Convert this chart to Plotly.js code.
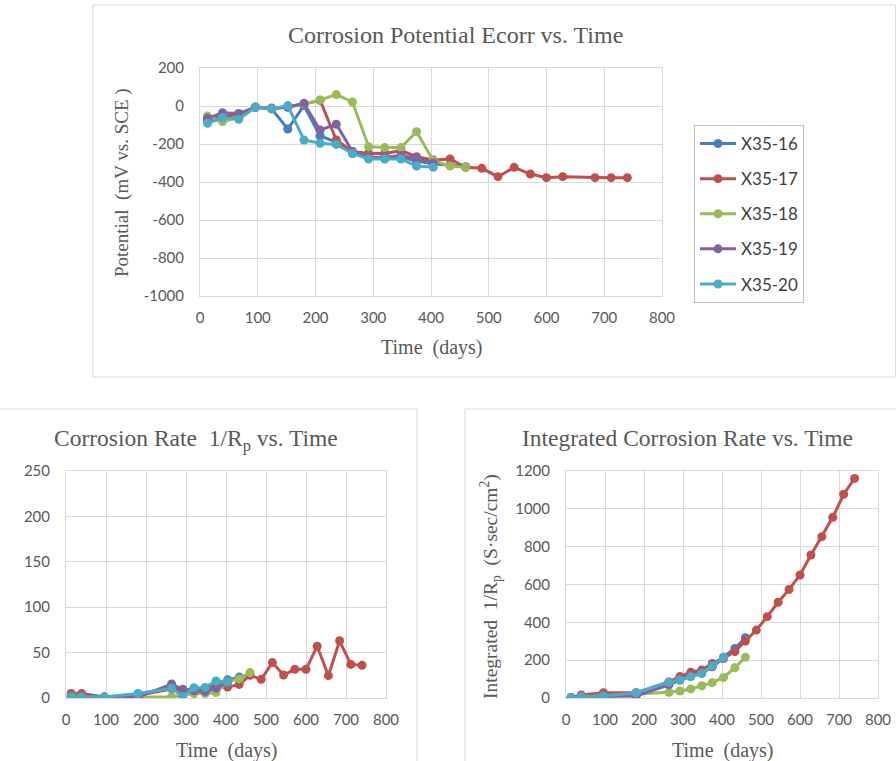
<!DOCTYPE html>
<html>
<head>
<meta charset="utf-8">
<script src="https://cdn.plot.ly/plotly-3.0.1.min.js"></script>
<style>
html,body{margin:0;padding:0;background:#fff;}
#chart{width:896px;height:761px;}
</style>
</head>
<body>
<div id="chart"></div>
<script>
// ---------- Data ----------
const seriesNames = ["X35-16", "X35-17", "X35-18", "X35-19", "X35-20"];
const seriesColors = ["#4A7EBB", "#C0504D", "#9BBB59", "#8064A2", "#4BACC6"];

// Corrosion potential (mV vs SCE)
const potDaysAll = [13, 39, 67, 96, 124, 152, 180, 208, 236, 264, 292, 320, 348, 375, 404, 433, 460, 488, 516, 544, 572, 600, 628, 684, 712, 740];
const pot16 = [-80, -70, -65, -7, -15, -121, 2, -158, -190, -250, -270, -275, -270, -290, -305, -310, -320];
const pot17 = [-60, -55, -45, -5, -10, -5, 10, 30, -179, -240, -250, -250, -235, -267, -284, -279, -323, -328, -372, -323, -358, -377, -372, -377, -377, -377];
const pot18 = [-53, -82, -60, -7, -15, -5, 10, 32, 60, 21, -214, -219, -219, -135, -288, -316, -323];
const pot19 = [-65, -35, -39, -7, -15, -5, 14, -126, -96, -240, -270, -270, -260, -275, -300];
const pot20 = [-91, -61, -70, -7, -15, 2, -179, -196, -202, -250, -279, -279, -279, -316, -323];

// Corrosion rate 1/Rp and integrated 1/Rp
const rateDaysAll = [13, 39, 96, 180, 264, 292, 320, 348, 375, 404, 433, 460, 488, 516, 544, 572, 600, 628, 656, 684, 712, 740];
const rate16 = [3, 3, 1, 4, 12, 8, 10, 10, 15, 20, 23, 26];
const rate17 = [5, 5, 1, 3, 10, 9, 8, 8, 12, 12, 15, 25, 20.6, 39, 25.3, 31.6, 31.6, 57, 24.6, 63, 37, 36];
const rate18 = [2, 2, 1, 1, 1.5, 3, 5, 5, 6, 18, 21, 28];
const rate19 = [2, 2, 1, 1, 15.4, 9.5, 8, 7, 10.7, 17];
const rate20 = [1.5, 1, 1, 5, 10.7, 1.5, 11.4, 11.7, 18.7, 17.6];

const int16 = [2, 7, 10, 25, 80, 100, 120, 135, 175, 215, 262, 319];
const int17 = [3, 16, 28, 28, 85, 113, 136, 148, 183, 210, 245, 301, 359, 430, 506, 574, 650, 756, 853, 955, 1077, 1161];
const int18 = [2, 5, 8, 18, 30, 37, 48, 65, 81, 109, 160, 215];
const int19 = [2, 5, 8, 11, 70, 95, 115, 130, 165, 210];
const int20 = [1.6, 7, 10.6, 28, 83, 95, 113, 130, 171, 215];

const xTicks = [0, 100, 200, 300, 400, 500, 600, 700, 800];
const potTicks = [200, 0, -200, -400, -600, -800, -1000];
const potTickText = ["200", "0", "-200", "-400", "-600", "-800", "-1000"];

// ---------- Build ----------
const potSeries = [pot16, pot17, pot18, pot19, pot20];
const rateSeries = [rate16, rate17, rate18, rate19, rate20];
const intSeries = [int16, int17, int18, int19, int20];

function mk(xs, ys, i, xa, ya, legend) {
  return {
    type: "scatter", mode: "lines+markers",
    x: xs.slice(0, ys.length), y: ys,
    name: seriesNames[i], legendgroup: "g" + i, showlegend: legend,
    xaxis: xa, yaxis: ya,
    line: {color: seriesColors[i], width: 3},
    marker: {color: seriesColors[i], size: 9}
  };
}

const data = [];
potSeries.forEach((s, i) => data.push(mk(potDaysAll, s, i, "x", "y", true)));
rateSeries.forEach((s, i) => data.push(mk(rateDaysAll, s, i, "x2", "y2", false)));
intSeries.forEach((s, i) => data.push(mk(rateDaysAll, s, i, "x3", "y3", false)));

const W = 896, H = 761;
const px = v => v / W;
const py = v => 1 - v / H;

const tickFont = {family: "Lato, 'Open Sans', sans-serif", size: 15, color: "#595959"};
const serif = "'Liberation Serif', 'Times New Roman', serif";
const gridC = "#d9d9d9";

function xa(dom) {
  return {domain: dom, range: [0, 800], tickvals: xTicks, showgrid: true, gridcolor: gridC,
    showline: true, linecolor: gridC, mirror: true, zeroline: false, ticks: "",
    tickfont: tickFont, ticklabelstandoff: 8, fixedrange: true};
}
function ya(dom, range, dtick, anchor) {
  return {domain: dom, range: range, dtick: dtick, showgrid: true, gridcolor: gridC,
    showline: true, linecolor: gridC, mirror: true, zeroline: false, ticks: "",
    tickfont: tickFont, ticklabelstandoff: 12, anchor: anchor, fixedrange: true};
}

const yTop = ya([py(296), py(68)], [-1000, 200], 200, "x");
yTop.tickmode = "array";
yTop.tickvals = potTicks;
yTop.ticktext = potTickText;

const layout = {
  width: W, height: H,
  margin: {l: 0, r: 0, t: 0, b: 0},
  paper_bgcolor: "#fff", plot_bgcolor: "#fff",
  showlegend: true,
  legend: {x: px(694), y: py(125), xanchor: "left", yanchor: "top",
    bordercolor: "#bfbfbf", borderwidth: 1, bgcolor: "#fff",
    font: {family: "Lato, 'Open Sans', sans-serif", size: 17, color: "#404040"},
    traceorder: "grouped", tracegroupgap: 10, itemwidth: 36},
  xaxis: Object.assign(xa([px(200), px(662)]), {anchor: "y"}),
  yaxis: yTop,
  xaxis2: Object.assign(xa([px(66), px(386)]), {anchor: "y2"}),
  yaxis2: ya([py(698), py(471)], [0, 250], 50, "x2"),
  xaxis3: Object.assign(xa([px(566), px(878)]), {anchor: "y3"}),
  yaxis3: ya([py(698), py(471)], [0, 1200], 200, "x3"),
  shapes: [
    {type: "rect", xref: "paper", yref: "paper", x0: px(93), x1: px(895.5), y0: py(377), y1: py(5), line: {color: gridC, width: 1}},
    {type: "rect", xref: "paper", yref: "paper", x0: -0.01, x1: px(417), y0: -0.01, y1: py(409), line: {color: gridC, width: 1}},
    {type: "rect", xref: "paper", yref: "paper", x0: px(465), x1: 1.01, y0: -0.01, y1: py(409), line: {color: gridC, width: 1}}
  ],
  annotations: [
    {text: "Corrosion Potential Ecorr vs. Time", xref: "paper", yref: "paper", x: px(455), y: py(35), showarrow: false, xanchor: "center", yanchor: "middle", font: {family: serif, size: 24, color: "#595959"}},
    {text: "Time  (days)", xref: "paper", yref: "paper", x: px(431), y: py(347), showarrow: false, xanchor: "center", yanchor: "middle", font: {family: serif, size: 20, color: "#595959"}},
    {text: "Potential  (mV vs. SCE )", xref: "paper", yref: "paper", x: px(122), y: py(182), showarrow: false, textangle: -90, xanchor: "center", yanchor: "middle", font: {family: serif, size: 19, color: "#595959"}},
    {text: "Corrosion Rate  1/R<sub>p</sub> vs. Time", xref: "paper", yref: "paper", x: px(196), y: py(440), showarrow: false, xanchor: "center", yanchor: "middle", font: {family: serif, size: 23.5, color: "#595959"}},
    {text: "Time  (days)", xref: "paper", yref: "paper", x: px(226), y: py(750), showarrow: false, xanchor: "center", yanchor: "middle", font: {family: serif, size: 20, color: "#595959"}},
    {text: "Integrated Corrosion Rate vs. Time", xref: "paper", yref: "paper", x: px(687), y: py(438), showarrow: false, xanchor: "center", yanchor: "middle", font: {family: serif, size: 23.5, color: "#595959"}},
    {text: "Time  (days)", xref: "paper", yref: "paper", x: px(722), y: py(750), showarrow: false, xanchor: "center", yanchor: "middle", font: {family: serif, size: 20, color: "#595959"}},
    {text: "Integrated  1/R<sub>p</sub>  (S·sec/cm<sup>2</sup>)", xref: "paper", yref: "paper", x: px(490), y: py(587), showarrow: false, textangle: -90, xanchor: "center", yanchor: "middle", font: {family: serif, size: 19.5, color: "#595959"}}
  ]
};

Plotly.newPlot("chart", data, layout, {displayModeBar: false, staticPlot: true});
</script>
</body>
</html>
